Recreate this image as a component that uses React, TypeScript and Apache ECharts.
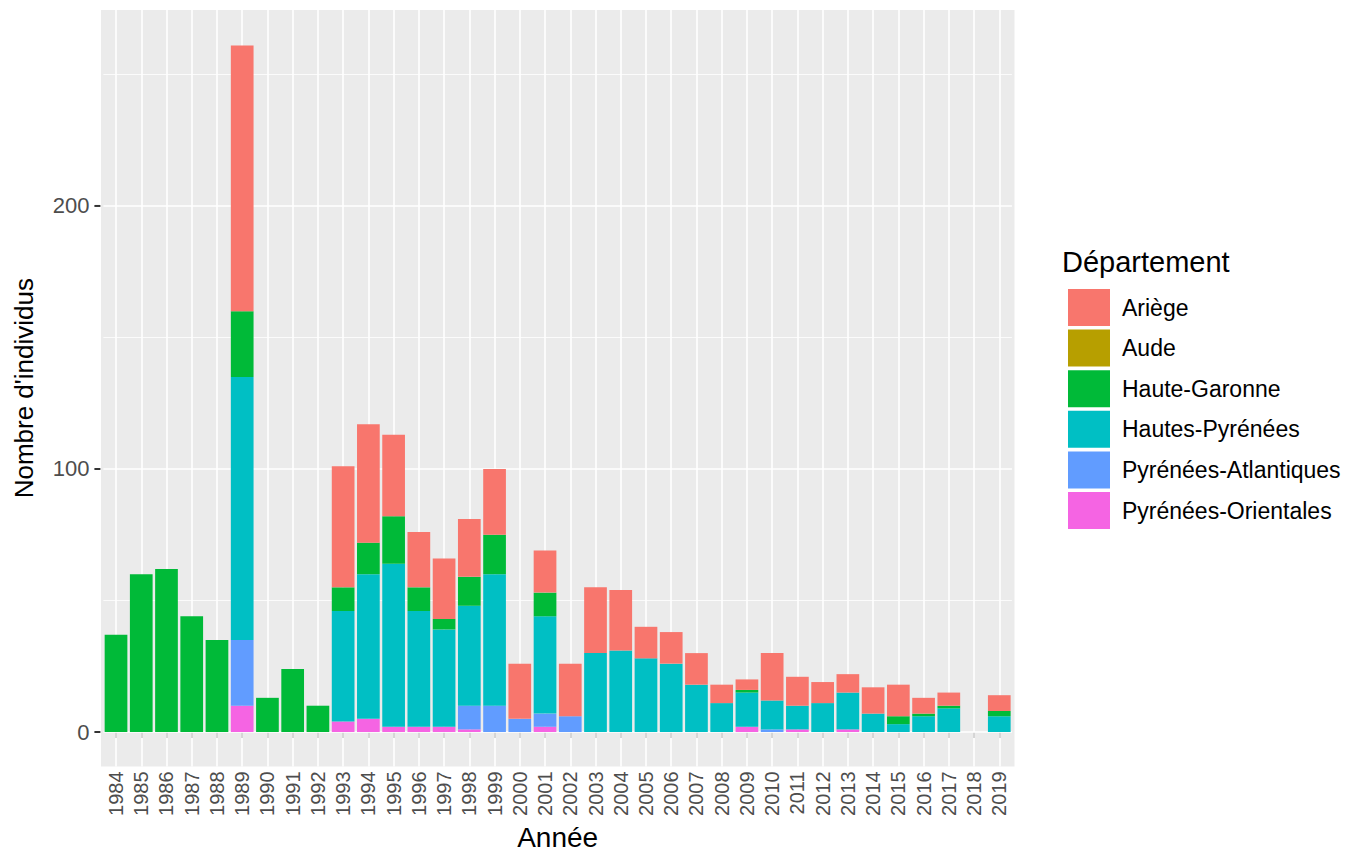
import React, { useRef, useEffect } from 'react'
import * as echarts from 'echarts'

// années (axe x)
const years = [
  '1984', '1985', '1986', '1987', '1988', '1989', '1990', '1991', '1992',
  '1993', '1994', '1995', '1996', '1997', '1998', '1999', '2000', '2001',
  '2002', '2003', '2004', '2005', '2006', '2007', '2008', '2009', '2010',
  '2011', '2012', '2013', '2014', '2015', '2016', '2017', '2018', '2019',
]

// effectifs par département
const ariege = [0, 0, 0, 0, 0, 101, 0, 0, 0, 46, 45, 31, 21, 23, 22, 25, 21, 16, 20, 25, 23, 12, 12, 12, 7, 4, 18, 11, 8, 7, 10, 12, 6, 5, 0, 6]
const aude = [0, 0, 0, 0, 0, 0, 0, 0, 0, 0, 0, 0, 0, 0, 0, 0, 0, 0, 0, 0, 0, 0, 0, 0, 0, 0, 0, 0, 0, 0, 0, 0, 0, 0, 0, 0]
const hauteGaronne = [37, 60, 62, 44, 35, 25, 13, 24, 10, 9, 12, 18, 9, 4, 11, 15, 0, 9, 0, 0, 0, 0, 0, 0, 0, 1, 0, 0, 0, 0, 0, 3, 1, 1, 0, 2]
const hautesPyrenees = [0, 0, 0, 0, 0, 100, 0, 0, 0, 42, 55, 62, 44, 37, 38, 50, 0, 37, 0, 30, 31, 28, 26, 18, 11, 13, 11, 9, 11, 14, 7, 3, 6, 9, 0, 6]
const pyrAtlantiques = [0, 0, 0, 0, 0, 25, 0, 0, 0, 0, 0, 0, 0, 0, 9, 10, 5, 5, 6, 0, 0, 0, 0, 0, 0, 0, 1, 0, 0, 0, 0, 0, 0, 0, 0, 0]
const pyrOrientales = [0, 0, 0, 0, 0, 10, 0, 0, 0, 4, 5, 2, 2, 2, 1, 0, 0, 2, 0, 0, 0, 0, 0, 0, 0, 2, 0, 1, 0, 1, 0, 0, 0, 0, 0, 0]

const yMajor = [0, 100, 200]
const yMinor = [50, 150, 250]

const departements = ['Ariège', 'Aude', 'Haute-Garonne', 'Hautes-Pyrénées', 'Pyrénées-Atlantiques', 'Pyrénées-Orientales']
const couleurs = ['#F8766D', '#B79F00', '#00BA38', '#00BFC4', '#619CFF', '#F564E3']

const FONT = '"Liberation Sans", Arial, sans-serif'

function App() {
  const chartRef = useRef(null)

  useEffect(() => {
    document.body.style.margin = '0'
    const chart = echarts.init(chartRef.current, null, { renderer: 'svg' })

    // empilement : le premier niveau (Ariège) en haut, comme ggplot
    const valeurs = [ariege, aude, hauteGaronne, hautesPyrenees, pyrAtlantiques, pyrOrientales]
    const barSeries = departements
      .map((nom, i) => ({
        name: nom,
        type: 'bar',
        stack: 'total',
        barCategoryGap: '10%',
        z: 2,
        itemStyle: { color: couleurs[i] },
        data: valeurs[i],
      }))
      .reverse()

    // grille blanche façon ggplot (sous les barres)
    const gridLines = {
      name: 'grille',
      type: 'line',
      data: [],
      silent: true,
      markLine: {
        silent: true,
        z: 1,
        symbol: 'none',
        animation: false,
        data: [
          ...years.map((y) => ({
            xAxis: y,
            lineStyle: { color: '#ffffff', width: 1.6, type: 'solid' },
            label: { show: false },
          })),
          ...yMinor.map((v) => ({
            yAxis: v,
            lineStyle: { color: '#ffffff', width: 0.8, type: 'solid' },
            label: { show: false },
          })),
          ...yMajor.map((v) => ({
            yAxis: v,
            lineStyle: { color: '#ffffff', width: 1.6, type: 'solid' },
            label: {
              show: true,
              position: 'start',
              distance: 3,
              formatter: '{v|' + v + '}{t|}',
              rich: {
                v: { fontSize: 22, color: '#4D4D4D', fontFamily: FONT, padding: [0, 5, 0, 0] },
                t: { width: 6, height: 2, backgroundColor: '#333333' },
              },
            },
          })),
        ],
      },
    }

    const option = {
      animation: false,
      textStyle: { fontFamily: FONT },
      title: {
        text: 'Département',
        left: 1057,
        top: 242,
        textStyle: { fontSize: 29, fontWeight: 'normal', color: '#000000', fontFamily: FONT },
      },
      legend: {
        data: departements,
        orient: 'vertical',
        left: 1063,
        top: 284,
        itemWidth: 42,
        itemHeight: 37,
        itemGap: 3.6,
        icon: 'rect',
        textStyle: { fontSize: 23, color: '#000000', fontFamily: FONT, padding: [0, 0, 0, 7] },
      },
      graphic: [
        {
          type: 'rect',
          z: 0,
          silent: true,
          shape: { x: 101, y: 10, width: 913.5, height: 756.4 },
          style: { fill: '#EBEBEB' },
        },
      ],
      grid: { left: 103.4, right: 336.1, top: 10, bottom: 85.6, outerBoundsMode: 'none', containLabel: false },
      xAxis: {
        type: 'category',
        data: years,
        name: 'Année',
        nameLocation: 'middle',
        nameGap: 56,
        nameTextStyle: { fontSize: 28, color: '#000000', fontFamily: FONT },
        axisLine: { show: false },
        axisTick: { show: true, alignWithLabel: true, length: 6, lineStyle: { color: '#333333', width: 2 } },
        axisLabel: { rotate: 90, fontSize: 20, color: '#4D4D4D', margin: 5, interval: 0, fontFamily: FONT },
        splitLine: { show: false },
      },
      yAxis: {
        type: 'value',
        min: -13.07,
        max: 274.5,
        name: "Nombre d'individus",
        nameLocation: 'middle',
        nameGap: 66,
        nameTextStyle: { fontSize: 26, color: '#000000', fontFamily: FONT },
        axisLine: { show: false },
        axisTick: { show: false },
        axisLabel: { show: false },
        splitLine: { show: false },
      },
      series: [gridLines, ...barSeries],
    }

    chart.setOption(option)

    return () => {
      chart.dispose()
    }
  }, [])

  return <div ref={chartRef} style={{ width: '1348px', height: '852px' }}></div>
}

export default App
